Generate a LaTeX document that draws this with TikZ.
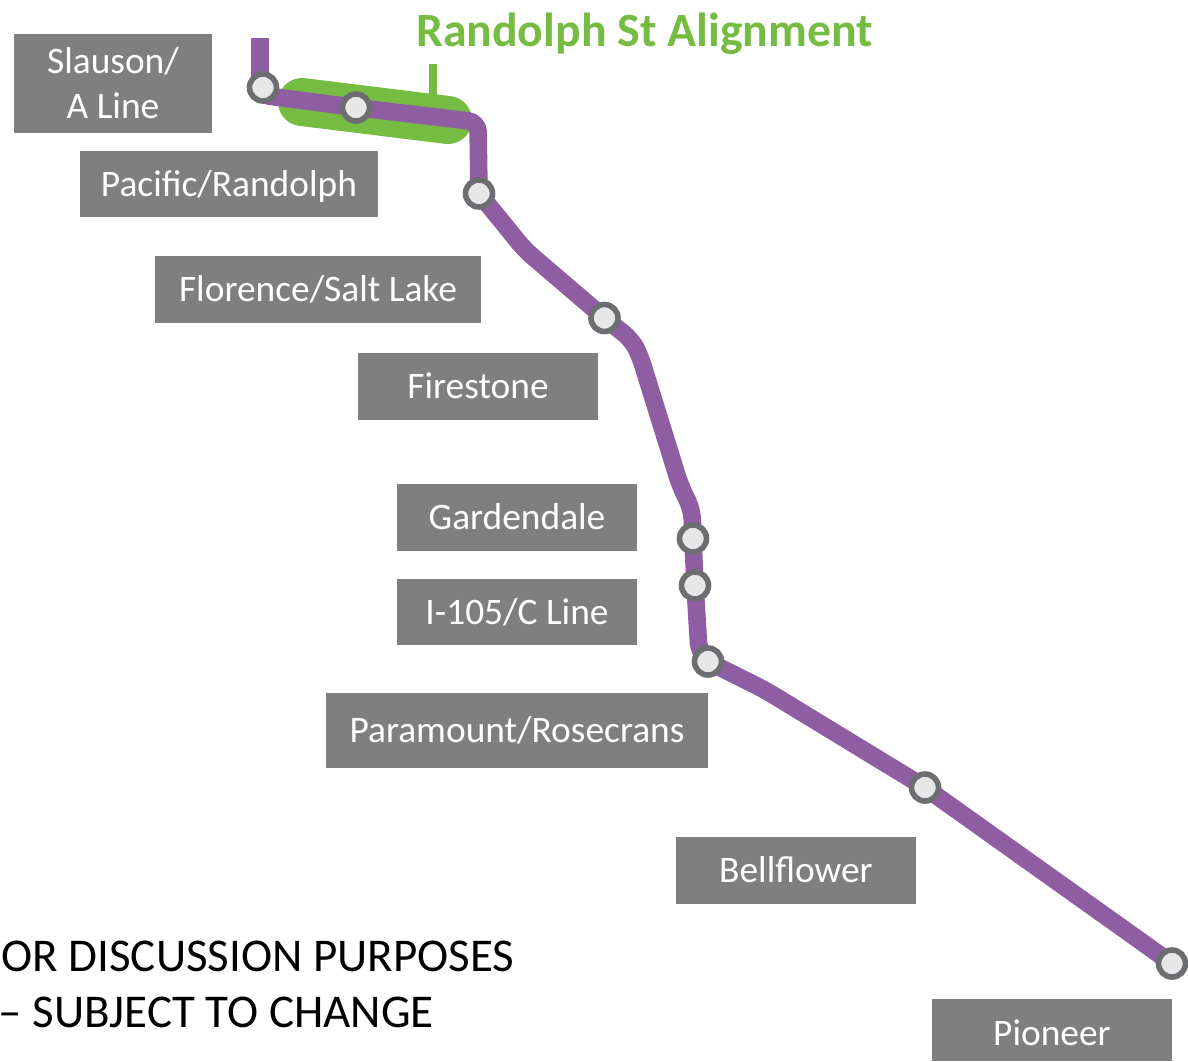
\documentclass[tikz,border=0pt]{standalone}
\usepackage{fontspec}
\setmainfont{Carlito}
\usetikzlibrary{backgrounds}
\definecolor{linepurple}{HTML}{8F5DA2}
\definecolor{bandgreen}{HTML}{76BC43}
\definecolor{boxgray}{HTML}{7F7F7F}
\definecolor{stopfill}{HTML}{E6E7E6}
\definecolor{stopring}{HTML}{6D6E71}
\tikzset{
	label box/.style={fill=boxgray,text=white,align=center,inner sep=0pt,font=\fontsize{18.7}{22.5}\selectfont},
	label one/.style={label box,text height=12.2pt,text depth=0pt},
	stop/.style={circle,draw=stopring,fill=stopfill,line width=2.8pt,minimum size=13.5pt,inner sep=0pt},
	route/.style={linepurple,line width=8.8pt,rounded corners=5pt},
	note/.style={anchor=west,font=\fontsize{23.5}{28}\selectfont,inner sep=0pt}
}
\begin{document}
\begin{tikzpicture}[x=0.5pt,y=-0.5pt]
	\useasboundingbox (0,0) rectangle (1188,1061);

	\node[stop] (slauson) at (263,87.5) {};
	\node[stop] (pacific) at (356,107.5) {};
	\node[stop] (florence) at (479,193.5) {};
	\node[stop] (firestone) at (604.5,318) {};
	\node[stop] (gardendale) at (693,538.5) {};
	\node[stop] (i105) at (695,585.5) {};
	\node[stop] (paramount) at (708,661.5) {};
	\node[stop] (bellflower) at (925,787.5) {};
	\node[stop] (pioneer) at (1172,963.5) {};

	\node[label box,minimum width=99pt,minimum height=49.5pt] (slausonbox) at (113,83.5) {Slauson/\\A Line};
	\node[label one,minimum width=149pt,minimum height=33pt] (pacificbox) at (229,184) {Pacific/Randolph};
	\node[label one,minimum width=163pt,minimum height=33.5pt] (florencebox) at (318,289.5) {Florence/Salt Lake};
	\node[label one,minimum width=120pt,minimum height=33.5pt] (firestonebox) at (478,386.5) {Firestone};
	\node[label one,minimum width=120pt,minimum height=33.5pt] (gardendalebox) at (517,517.5) {Gardendale};
	\node[label one,minimum width=120pt,minimum height=33pt] (i105box) at (517,612) {I-105/C Line};
	\node[label one,minimum width=191pt,minimum height=37.5pt] (paramountbox) at (517,730.5) {Paramount/Rosecrans};
	\node[label one,minimum width=120pt,minimum height=33.5pt] (bellflowerbox) at (796,870.5) {Bellflower};
	\node[label one,text height=15.2pt,minimum width=120pt,minimum height=31pt] (pioneerbox) at (1052,1030) {Pioneer};

	\node[text=bandgreen,font=\fontsize{23.9}{28}\bfseries\selectfont,inner sep=0pt] (title) at (644.5,34) {Randolph St Alignment};
	\node[note] (note1) at (1,956) {OR DISCUSSION PURPOSES};
	\node[note] (note2) at (-2,1012) {– SUBJECT TO CHANGE};

	\coordinate (top) at (260,38);
	\coordinate (bandl) at (302,102);
	\coordinate (bandr) at (448,120);
	\coordinate (stubt) at (433,64);
	\coordinate (stubb) at (433,100);

	\begin{pgfonlayer}{background}
		\draw[bandgreen,line width=4pt] (stubt) -- (stubb);
		\draw[bandgreen,line width=24pt,line cap=round] (bandl) -- (bandr);
		\draw[route] (top) -- (260,95) -- (pacific.center) -- (478,122) -- (florence.center)
			-- (525,250) -- (firestone.center) -- (632,340) -- (640,356) -- (680,485) -- (692,510)
			-- (gardendale.center) -- (i105.center) -- (699,652) -- (paramount.center) -- (765,690)
			-- (bellflower.center) -- (pioneer.center);
	\end{pgfonlayer}
\end{tikzpicture}
\end{document}
